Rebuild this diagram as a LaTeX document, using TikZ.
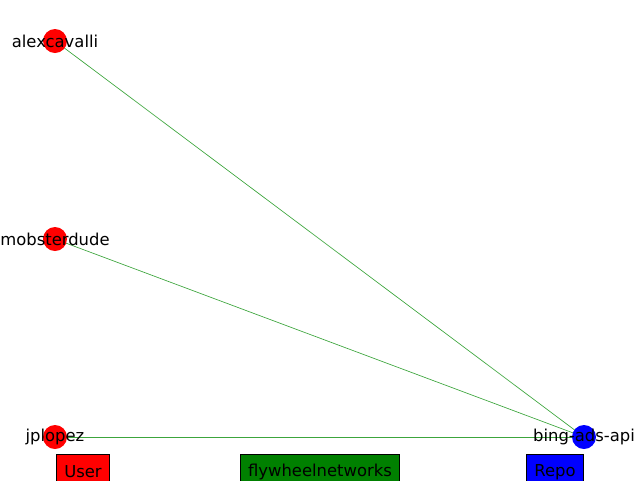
\documentclass[tikz,border=0pt]{standalone}
\usepackage{fontspec}
\setmainfont{DejaVu Sans}
\usepackage{tikz}
\usetikzlibrary{backgrounds}

\tikzset{
    user/.style={circle, fill={rgb,255:red,255;green,0;blue,0}, minimum size=18pt, inner sep=0pt},
    repo/.style={circle, fill={rgb,255:red,0;green,0;blue,255}, minimum size=18pt, inner sep=0pt},
    lbl/.style={inner sep=0.75pt, font=\fontsize{12.3}{14}\selectfont},
    link/.style={draw={rgb,255:red,60;green,165;blue,60}, line width=0.5pt},
    legend/.style={draw=black, line width=0.75pt, inner xsep=5.8pt, minimum height=26pt, font=\fontsize{12.3}{14}\selectfont}
}

\begin{document}
\begin{tikzpicture}[x=0.75pt,y=0.75pt,yscale=-1,xscale=1]
    \useasboundingbox (0,0) rectangle (640,480);

    % Nodes
    \node [user] (alexcavalli) at (55,41) {};
    \node [user] (mobsterdude) at (55,239) {};
    \node [user] (jplopez) at (55,437) {};
    \node [repo] (bingadsapi) at (584,437) {};

    %Straight Lines
    \begin{scope}[on background layer]
    \draw [link] (alexcavalli.center) -- (bingadsapi.center);
    \draw [link] (mobsterdude.center) -- (bingadsapi.center);
    \draw [link] (jplopez.center) -- (bingadsapi.center);
    \end{scope}

    % Text Node
    \node [lbl] at (alexcavalli) {alexcavalli};
    % Text Node
    \node [lbl] at (mobsterdude) {mobsterdude};
    % Text Node
    \node [lbl] at (jplopez) {jplopez};
    % Text Node
    \node [lbl] at (bingadsapi) {bing-ads-api};

    % Legend
    \node [legend, fill={rgb,255:red,255;green,0;blue,0}, anchor=north] (userkey) at (83,454) {User};
    \node [legend, fill={rgb,255:red,0;green,128;blue,0}, anchor=north] (ownerkey) at (320,454) {flywheelnetworks};
    \node [legend, fill={rgb,255:red,0;green,0;blue,255}, anchor=north] (repokey) at (555,454) {Repo};
\end{tikzpicture}
\end{document}
